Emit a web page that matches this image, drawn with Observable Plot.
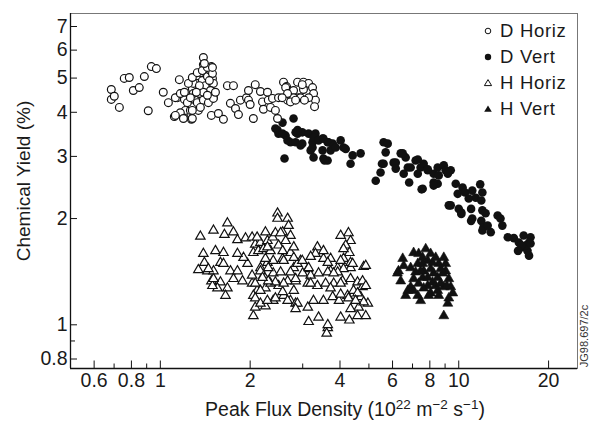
<!DOCTYPE html>
<html><head><meta charset="utf-8">
<script src="https://cdn.jsdelivr.net/npm/d3@7"></script>
<script src="https://cdn.jsdelivr.net/npm/@observablehq/plot@0.6"></script>
<style>
html,body{margin:0;padding:0;background:#fff;}
#chart{position:relative;width:594px;height:421px;font-family:"Liberation Sans",Arial,Helvetica,sans-serif;color:#1a1a1a;overflow:hidden;}
.ylab{position:absolute;left:24px;top:181px;transform:translate(-50%,-50%) rotate(-90deg);white-space:nowrap;font-size:19px;}
.xlab{position:absolute;left:345px;top:409px;transform:translate(-50%,-50%);white-space:nowrap;font-size:19.5px;}
.xlab sup{font-size:13.5px;vertical-align:0;position:relative;top:-7px;}
.legend{position:absolute;left:481px;top:18px;font-size:18.5px;letter-spacing:0.7px;}
.legend div{display:flex;align-items:center;height:26px;}
.legend svg{width:14px;height:14px;margin-right:5px;}
.code{position:absolute;left:584px;top:336px;transform:translate(-50%,-50%) rotate(-90deg);font-size:11px;white-space:nowrap;color:#333;}
</style></head>
<body><div id="chart"></div>
<script>
// D Horiz (open circles)
const dHorizX = [0.685,0.685,0.701,0.729,0.757,0.787,0.812,0.850,0.884,0.911,0.933,0.970,1.023,1.064,1.114,1.158,1.14,1.176,1.204,1.195,1.213,1.271,1.261,1.28,1.28,1.29,1.31,1.341,1.33,1.362,1.352,1.394,1.394,1.394,1.383,1.383,1.416,1.438,1.438,1.438,1.472,1.483,1.495,1.495,1.506,1.506,1.472,1.483,1.565,1.627,1.678,1.758,1.717,1.786,1.827,1.855,1.944,1.974,1.974,2.0,2.05,2.08,2.165,2.2,2.216,2.286,2.30,2.34,2.376,2.43,2.47,2.489,2.587,2.648,2.668,2.752,2.795,2.883,2.904,3.018,3.14,3.236,3.262,3.31,3.287,3.018,3.14,2.795,2.95,3.04,2.99,2.63,2.668,2.73,2.84,2.56,1.123,1.167,1.204,1.242,1.28,1.33,1.383,1.438,1.495,1.405,1.495,1.506,1.472,1.394,1.352,1.29,1.232,1.28,1.167,1.123,1.33,1.394,1.449,1.506,1.53,1.28,1.195,1.438,1.362,1.32,1.261,1.46];
const dHorizY = [4.64,4.35,4.44,4.13,4.99,5.02,4.61,4.70,5.05,4.04,5.39,5.32,4.56,4.26,3.89,4.95,4.40,4.52,4.35,3.92,4.05,3.82,4.05,4.15,4.67,4.83,4.33,4.05,5.08,5.18,4.52,5.72,5.46,5.25,4.92,4.70,4.76,5.05,4.49,4.33,5.25,5.39,4.99,4.83,4.56,4.40,4.40,3.92,3.97,3.82,4.76,4.76,4.24,4.10,3.94,4.33,4.40,4.61,4.33,4.21,3.84,4.79,4.58,4.28,4.08,4.56,4.33,4.13,4.38,4.05,3.84,4.40,4.87,4.73,4.33,4.40,4.61,4.87,4.40,4.87,4.83,4.70,4.52,4.33,4.15,4.64,4.40,4.40,4.40,4.33,4.79,4.70,4.52,4.28,4.33,4.40,4.40,4.52,4.56,4.83,5.02,5.18,5.25,5.36,5.15,5.50,5.36,4.83,4.61,4.56,4.76,4.52,4.26,4.05,3.99,3.92,4.26,4.33,4.26,4.38,4.56,3.84,3.84,4.47,4.13,4.56,4.40,4.92];
// D Vert (filled circles)
const dVertX = [2.567,2.795,2.43,2.489,2.628,2.73,2.607,2.883,2.95,2.47,2.567,2.84,2.99,3.14,3.31,3.497,3.635,3.78,2.668,2.84,2.99,3.236,3.19,3.262,3.497,3.635,2.883,3.262,3.39,3.52,3.66,3.81,4.02,3.236,3.52,4.11,4.41,4.34,4.69,3.72,4.18,3.55,3.87,5.60,5.78,5.69,5.60,5.47,5.27,6.05,6.39,6.64,6.75,6.82,7.17,7.45,7.63,7.87,7.57,7.29,8.24,8.50,8.91,9.40,9.19,8.50,6.15,6.49,6.15,6.54,6.90,7.29,7.51,7.87,8.24,8.57,9.04,9.26,5.53,9.77,10.3,9.92,10.5,11.1,11.8,12.0,11.4,11.9,10.8,9.40,10.0,10.2,11.0,11.1,12.0,12.3,11.9,12.1,12.0,12.8,13.5,13.8,14.0,14.6,15.3,15.9,16.5,17.4,17.2,16.4,17.0,16.8,17.4,16.2,17.2,15.8,9.19,8.24,12.5,11.0,10.2];
const dVertY = [3.74,3.84,3.60,3.48,3.44,3.29,2.96,3.48,3.22,3.56,3.48,3.51,3.51,3.48,3.48,3.37,3.29,3.26,3.33,3.29,3.26,3.29,3.12,2.98,3.12,2.92,3.56,3.39,3.33,3.37,3.29,3.22,3.33,3.18,2.96,3.18,3.02,2.86,3.06,3.12,3.15,2.92,3.18,3.29,3.26,3.08,2.86,2.70,2.56,2.88,3.06,2.98,2.79,2.53,2.92,2.79,2.86,2.74,2.43,2.68,2.68,2.79,2.83,2.74,2.68,2.51,2.88,3.06,2.77,2.68,2.79,2.94,2.42,2.76,2.53,2.65,2.74,2.18,2.86,2.51,2.45,2.35,2.37,2.40,2.50,2.37,2.29,2.25,2.28,2.18,2.13,2.08,2.13,2.00,2.11,2.07,1.97,1.89,1.85,1.83,2.04,2.00,1.91,1.77,1.76,1.71,1.79,1.77,1.71,1.66,1.62,1.68,1.70,1.68,1.57,1.62,2.70,2.48,1.91,1.97,2.06];
// H Horiz (open triangles)
const hHorizX = [1.362,1.507,1.678,1.64,1.758,1.813,1.93,2.03,2.08,2.165,2.25,2.285,2.38,2.47,2.47,2.67,2.69,2.73,2.57,2.43,1.394,1.53,1.628,1.405,1.341,1.438,1.507,1.59,1.718,1.813,1.885,1.758,1.59,1.678,1.653,1.554,1.483,1.96,2.05,2.13,2.216,2.03,2.11,2.05,2.05,2.08,2.25,2.25,2.39,2.59,2.73,2.84,2.285,2.39,2.57,2.73,2.80,2.63,2.49,2.34,2.165,2.216,2.39,2.53,2.67,2.49,2.34,2.80,2.84,2.80,4.27,4.34,4.18,4.30,4.80,3.36,3.31,3.52,3.12,3.19,3.39,3.72,3.93,4.11,4.34,2.95,3.12,3.36,3.58,3.81,4.08,4.34,4.58,4.76,4.44,4.24,4.69,4.96,4.62,4.34,3.14,3.39,3.64,3.61,4.02,4.30,4.58,4.88,3.26,3.52,3.78,3.97,2.88,2.67,2.84,3.12,4.02,4.34,4.11,4.88,4.76,4.88,4.58,4.80,4.02,3.19,3.0,2.88,2.99,3.14,3.64,3.93,3.72,4.02,4.27,4.51,3.72,3.52,2.11,2.53,1.449,1.628,1.495,1.507,1.90,1.813,2.285,2.57,2.80,2.59,2.25,2.30,2.165,2.08,2.165,2.08,2.165,2.285,2.43,2.57,2.59,2.43,2.30,2.73,2.84,2.03,2.20,3.19,3.64,3.81,4.41,4.11,4.02,3.64];
const hHorizY = [1.78,1.85,1.94,1.80,1.83,1.74,1.76,1.77,1.69,1.71,1.83,1.73,1.77,2.07,2.0,2.0,1.91,1.79,1.83,1.82,1.59,1.62,1.60,1.50,1.43,1.42,1.42,1.50,1.42,1.42,1.33,1.35,1.32,1.27,1.21,1.27,1.33,1.49,1.60,1.62,1.64,1.31,1.25,1.21,1.06,1.12,1.13,1.27,1.17,1.21,1.17,1.15,1.50,1.52,1.54,1.60,1.66,1.73,1.68,1.62,1.45,1.38,1.40,1.41,1.33,1.29,1.31,1.45,1.33,1.25,1.82,1.73,1.68,1.60,1.46,1.66,1.59,1.54,1.44,1.38,1.40,1.42,1.45,1.54,1.50,1.52,1.31,1.29,1.31,1.31,1.33,1.35,1.32,1.28,1.25,1.21,1.20,1.15,1.12,1.11,1.02,1.05,0.98,0.945,1.05,1.03,1.06,1.06,1.17,1.17,1.20,1.17,1.15,1.17,1.11,1.12,1.79,1.45,1.44,1.47,1.33,1.29,1.23,1.16,1.31,1.31,1.40,1.49,1.52,1.45,1.41,1.41,1.27,1.22,1.19,1.17,1.54,1.62,1.77,1.82,1.44,1.49,1.29,1.35,1.55,1.59,1.66,1.62,1.55,1.52,1.54,1.45,1.42,1.31,1.25,1.19,1.15,1.17,1.19,1.24,1.31,1.32,1.33,1.41,1.35,1.38,1.36,1.56,1.50,1.40,1.49,1.64,1.52,1.0];
// H Vert (filled triangles)
const hVertX = [6.49,6.28,6.23,6.39,6.64,7.06,7.34,7.29,6.90,7.57,7.75,7.87,8.05,8.37,8.57,8.91,9.04,9.04,9.26,9.40,9.55,9.26,8.91,8.50,8.57,8.05,7.87,7.57,7.34,7.06,6.90,6.75,7.45,9.19,8.91,8.24,8.05,7.63,8.50,8.84,7.45,7.87,8.17,7.63,7.17,7.57,8.17,8.70,6.54,7.06,8.37,7.93,8.70,9.12,7.29];
const hVertY = [1.54,1.42,1.40,1.33,1.21,1.60,1.59,1.49,1.45,1.55,1.64,1.52,1.59,1.55,1.49,1.55,1.49,1.42,1.35,1.28,1.23,1.19,1.28,1.25,1.21,1.23,1.29,1.36,1.31,1.35,1.28,1.25,1.17,1.15,1.06,1.40,1.44,1.42,1.36,1.40,1.42,1.36,1.32,1.27,1.41,1.49,1.50,1.44,1.47,1.25,1.29,1.21,1.31,1.29,1.21];

const xDomain = [0.5, 25];
const yDomain = [0.752, 7.62];
const xLabelTicks = [0.6, 0.8, 1, 2, 4, 6, 8, 10, 20];
const xMinorTicks = [0.7, 0.9, 3, 5, 7, 9];
const yLabelTicks = [0.8, 1, 2, 3, 4, 5, 6, 7];
const yMinorTicks = [0.9];
const seriesNames = ["D Horiz", "D Vert", "H Horiz", "H Vert"];

const zip = (xs, ys) => xs.map((x, i) => ({x, y: ys[i]}));
const dHoriz = zip(dHorizX, dHorizY);
const dVert = zip(dVertX, dVertY);
const hHoriz = zip(hHorizX, hHorizY);
const hVert = zip(hVertX, hVertY);

const W = 594, H = 421, mL = 70, mR = 17, mT = 13, mB = 53;
const pW = W - mL - mR, pH = H - mT - mB;
const ink = "#111";
const tickFont = {fontSize: 19.5, fill: "#1a1a1a"};

const svg = Plot.plot({
  width: W, height: H, marginLeft: mL, marginRight: mR, marginTop: mT, marginBottom: mB,
  style: {fontFamily: "'Liberation Sans', Arial, sans-serif", fontSize: "19.5px", color: "#1a1a1a", background: "white", overflow: "visible"},
  x: {type: "log", domain: xDomain, axis: null},
  y: {type: "log", domain: yDomain, axis: null},
  marks: [
    Plot.frame({stroke: "#777", strokeWidth: 1}),
    Plot.dot(hHoriz, {x: "x", y: "y", symbol: "triangle", r: 3.5, stroke: ink, strokeWidth: 1.2, fill: "white"}),
    Plot.dot(hVert, {x: "x", y: "y", symbol: "triangle", r: 3.7, fill: ink, stroke: ink, strokeWidth: 0.6}),
    Plot.dot(dVert, {x: "x", y: "y", r: 4.3, fill: ink}),
    Plot.dot(dHoriz, {x: "x", y: "y", r: 3.9, stroke: ink, strokeWidth: 1.2, fill: "white"}),
    Plot.ruleX([xDomain[0]], {stroke: ink, strokeWidth: 1.3}),
    Plot.ruleY([yDomain[0]], {stroke: ink, strokeWidth: 1.3}),
    Plot.tickX(xLabelTicks, {x: d => d, insetTop: pH - 7.5, stroke: ink}),
    Plot.tickX(xMinorTicks, {x: d => d, insetTop: pH - 4.5, stroke: ink}),
    Plot.tickY(yLabelTicks, {y: d => d, insetRight: pW - 7, stroke: ink}),
    Plot.tickY(yMinorTicks, {y: d => d, insetRight: pW - 5, stroke: ink}),
    Plot.text(xLabelTicks, {x: d => d, text: d => String(d), frameAnchor: "bottom", lineAnchor: "top", dy: 5, ...tickFont}),
    Plot.text(yLabelTicks, {y: d => d, text: d => String(d), frameAnchor: "left", textAnchor: "end", dx: -3, ...tickFont})
  ]
});
svg.style.position = "absolute";
svg.style.left = "0px";
svg.style.top = "0px";
const chart = document.getElementById("chart");
chart.appendChild(svg);

const ylab = document.createElement("div");
ylab.className = "ylab";
ylab.textContent = "Chemical Yield (%)";
chart.appendChild(ylab);

const xlab = document.createElement("div");
xlab.className = "xlab";
xlab.innerHTML = "Peak Flux Density (10<sup>22</sup> m<sup>\u22122</sup> s<sup>\u22121</sup>)";
chart.appendChild(xlab);

const sym = [
  '<circle cx="7" cy="7" r="2.8" fill="white" stroke="#111" stroke-width="1"/>',
  '<circle cx="7" cy="7" r="3.2" fill="#111"/>',
  '<path d="M7,3.6 L10.6,9.6 L3.4,9.6 Z" fill="white" stroke="#111" stroke-width="1"/>',
  '<path d="M7,3.4 L10.8,9.8 L3.2,9.8 Z" fill="#111"/>'
];
const legend = document.createElement("div");
legend.className = "legend";
legend.innerHTML = seriesNames.map((n, i) => `<div><svg viewBox="0 0 14 14">${sym[i]}</svg><span>${n}</span></div>`).join("");
chart.appendChild(legend);

const code = document.createElement("div");
code.className = "code";
code.textContent = "JG98.697/2c";
chart.appendChild(code);
</script>
</body></html>
